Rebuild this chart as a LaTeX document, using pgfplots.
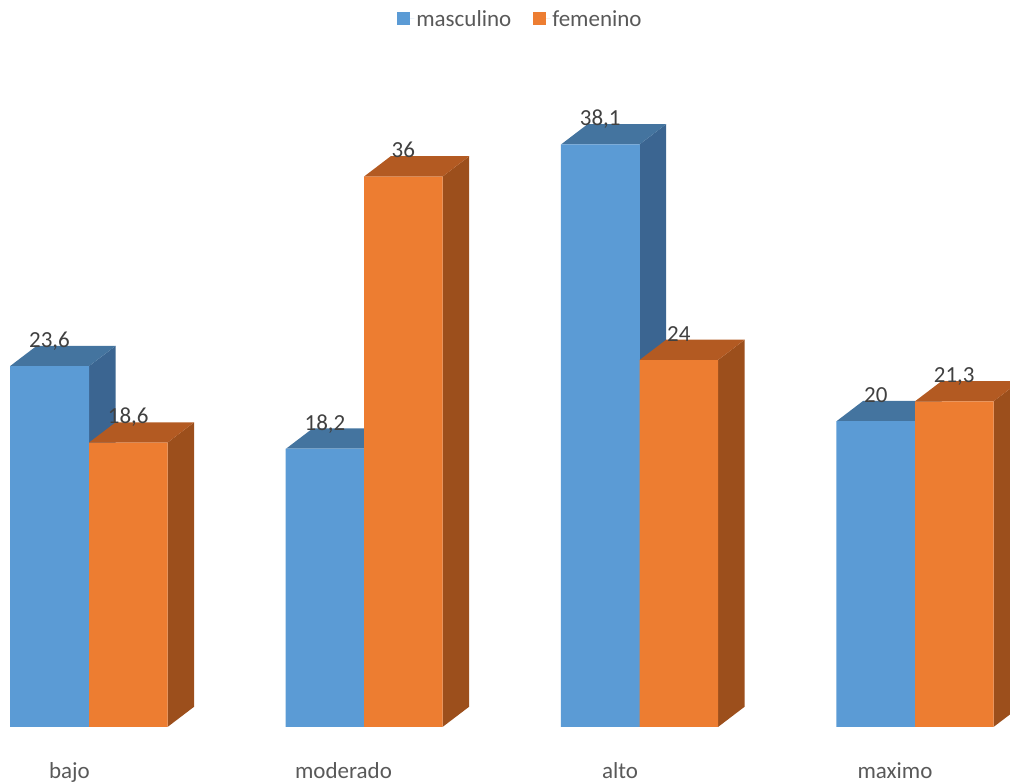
\documentclass[border=0pt]{standalone}
\usepackage{fontspec}
\setmainfont{Carlito}
\usepackage{pgfplots}
\pgfplotsset{compat=1.18}
\pgfkeys{/pgf/number format/.cd, use comma, 1000 sep={}, assume math mode=true}
\definecolor{bfront}{HTML}{5B9BD5}
\definecolor{btop}{HTML}{44749F}
\definecolor{bside}{HTML}{3B6591}
\definecolor{ofront}{HTML}{ED7D31}
\definecolor{otop}{HTML}{B35A22}
\definecolor{oside}{HTML}{9C4F1C}
\definecolor{lbl}{HTML}{404040}
\definecolor{cat}{HTML}{595959}
\pgfplotsset{valuelabels/.style={
  nodes near coords={\pgfmathprintnumber[use comma,1000 sep={},assume math mode=true]{\pgfplotspointmeta}},
  nodes near coords style={anchor=base, yshift=18.7pt, text=lbl, font=\fontsize{23}{28}\selectfont}}}
\begin{document}
\begin{tikzpicture}
\begin{axis}[
  width=1010pt, height=784pt, scale only axis,
  xmin=0, xmax=1010, ymin=-3.728, ymax=47.55,
  clip=false,
  axis line style={draw=none}, tick style={draw=none}, major tick length=0pt,
  ytick=\empty,
  xtick={69.5,343.5,620,895},
  xticklabels={bajo,moderado,alto,maximo},
  xticklabel style={anchor=base, yshift=5pt, text=cat, font=\fontsize{23}{28}\selectfont},
  legend columns=2,
  legend style={draw=none, fill=none, at={(rel axis cs:0.5153,0.9758)}, anchor=center,
    font=\fontsize{23}{28}\selectfont, text=cat,
    /tikz/every even column/.append style={column sep=20pt}},
  legend image code/.code={\fill[#1] (0pt,-6.5pt) rectangle (13pt,6.5pt); \path (0pt,0pt) -- (17pt,0pt);},
]
% blue side and top faces
\addplot[fill=bside, draw=none, forget plot] coordinates {(89,0)(115.7,1.33)(115.7,24.93)(89,23.6)} --cycle;
\addplot[fill=btop, draw=none, forget plot] coordinates {(10,23.6)(36.7,24.93)(115.7,24.93)(89,23.6)} --cycle;
\addplot[fill=bside, draw=none, forget plot] coordinates {(364,0)(390.7,1.33)(390.7,19.53)(364,18.2)} --cycle;
\addplot[fill=btop, draw=none, forget plot] coordinates {(286,18.2)(312.7,19.53)(390.7,19.53)(364,18.2)} --cycle;
\addplot[fill=bside, draw=none, forget plot] coordinates {(639.5,0)(666.2,1.33)(666.2,39.43)(639.5,38.1)} --cycle;
\addplot[fill=btop, draw=none, forget plot] coordinates {(561,38.1)(587.7,39.43)(666.2,39.43)(639.5,38.1)} --cycle;
\addplot[fill=bside, draw=none, forget plot] coordinates {(915,0)(941.7,1.33)(941.7,21.33)(915,20)} --cycle;
\addplot[fill=btop, draw=none, forget plot] coordinates {(836.5,20)(863.2,21.33)(941.7,21.33)(915,20)} --cycle;
% blue fronts
\addplot[ybar, bar width=79, bar shift=0pt, fill=bfront, draw=none, valuelabels]
  coordinates {(49.5,23.6)(325,18.2)(600.25,38.1)(875.75,20)};
\addlegendentry{masculino}
% orange side and top faces
\addplot[fill=oside, draw=none, forget plot] coordinates {(167.5,0)(194.2,1.33)(194.2,19.93)(167.5,18.6)} --cycle;
\addplot[fill=otop, draw=none, forget plot] coordinates {(89,18.6)(115.7,19.93)(194.2,19.93)(167.5,18.6)} --cycle;
\addplot[fill=oside, draw=none, forget plot] coordinates {(442.5,0)(469.2,1.33)(469.2,37.33)(442.5,36)} --cycle;
\addplot[fill=otop, draw=none, forget plot] coordinates {(364,36)(390.7,37.33)(469.2,37.33)(442.5,36)} --cycle;
\addplot[fill=oside, draw=none, forget plot] coordinates {(718,0)(744.7,1.33)(744.7,25.33)(718,24)} --cycle;
\addplot[fill=otop, draw=none, forget plot] coordinates {(639.5,24)(666.2,25.33)(744.7,25.33)(718,24)} --cycle;
\addplot[fill=oside, draw=none, forget plot] coordinates {(993.5,0)(1020.2,1.33)(1020.2,22.63)(993.5,21.3)} --cycle;
\addplot[fill=otop, draw=none, forget plot] coordinates {(915,21.3)(941.7,22.63)(1020.2,22.63)(993.5,21.3)} --cycle;
% orange fronts
\addplot[ybar, bar width=78.5, bar shift=0pt, fill=ofront, draw=none, valuelabels]
  coordinates {(128.25,18.6)(403.25,36)(678.75,24)(954.25,21.3)};
\addlegendentry{femenino}
\end{axis}
\pgfresetboundingbox
\path[use as bounding box] (current axis.south west) rectangle (current axis.north east);
\end{tikzpicture}
\end{document}
